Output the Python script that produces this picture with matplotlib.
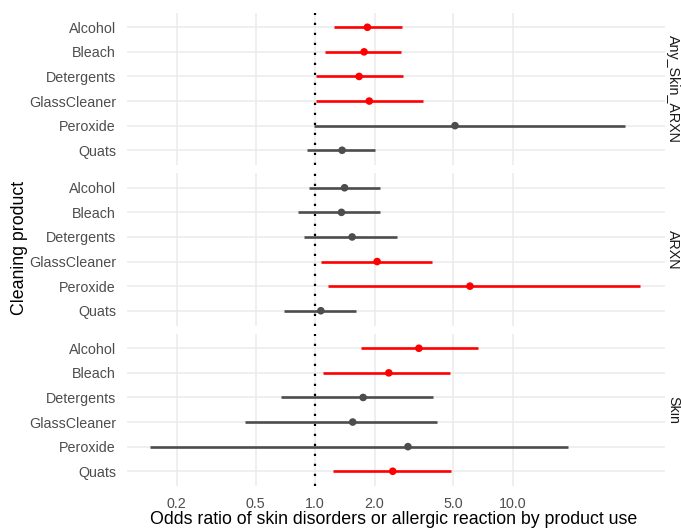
import matplotlib
matplotlib.use("Agg")
import matplotlib.pyplot as plt
from matplotlib.ticker import FixedLocator, FixedFormatter, NullLocator

plt.rcParams['font.family'] = ['Liberation Sans', 'DejaVu Sans']

products = ["Alcohol", "Bleach", "Detergents", "GlassCleaner", "Peroxide", "Quats"]
outcomes = ["Any_Skin_ARXN", "ARXN", "Skin"]

# odds ratios, lower and upper 95% CI, per outcome (order of products)
or_any = [1.84, 1.77, 1.67, 1.88, 5.10, 1.37]
lo_any = [1.24, 1.12, 1.01, 1.01, 0.99, 0.91]
hi_any = [2.74, 2.73, 2.80, 3.51, 36.9, 2.01]

or_arxn = [1.41, 1.36, 1.54, 2.06, 6.07, 1.07]
lo_arxn = [0.93, 0.82, 0.88, 1.07, 1.16, 0.70]
hi_arxn = [2.14, 2.14, 2.59, 3.90, 44.1, 1.62]

or_skin = [3.35, 2.36, 1.75, 1.55, 2.95, 2.47]
lo_skin = [1.70, 1.10, 0.675, 0.445, 0.147, 1.235]
hi_skin = [6.68, 4.80, 3.96, 4.13, 18.9, 4.88]

x_ticks = [0.2, 0.5, 1.0, 2.0, 5.0, 10.0]
x_tick_labels = ["0.2", "0.5", "1.0", "2.0", "5.0", "10.0"]

data = [(or_any, lo_any, hi_any), (or_arxn, lo_arxn, hi_arxn), (or_skin, lo_skin, hi_skin)]

W, H = 681, 528
fig = plt.figure(figsize=(W / 100, H / 100), dpi=100)

RED = "#FF0000"
GREY = "#4D4D4D"
GRID = "#EBEBEB"

left_px, right_px = 127, 665
tops = [12.5, 173, 333.5]
ph = 152.5

axes = []
for i, (outcome, (ors, los, his)) in enumerate(zip(outcomes, data)):
    top = tops[i]
    ax = fig.add_axes([left_px / W, 1 - (top + ph) / H, (right_px - left_px) / W, ph / H])
    axes.append(ax)
    colors = [RED if l > 1 else GREY for l in los]
    ax.set_xscale('log')
    ax.set_xlim(0.112, 58.8)
    ax.set_ylim(-0.6, 5.6)
    ypos = list(range(len(products)))
    for y in ypos:
        ax.axhline(y, color=GRID, lw=1.1, zorder=0)
    for xt in x_ticks:
        ax.axvline(xt, color=GRID, lw=1.1, zorder=0)
    ax.axvline(1.0, color="black", lw=1.6, linestyle=(0, (1, 3.5)), zorder=1)
    ax.hlines(ypos, los, his, colors=colors, lw=1.9, zorder=2)
    ax.scatter(ors, ypos, c=colors, s=30, zorder=3, edgecolors='none')
    ax.invert_yaxis()
    ax.set_yticks(ypos)
    ax.set_yticklabels(products, fontsize=10.3, color="#4D4D4D")
    ax.xaxis.set_major_locator(FixedLocator(x_ticks))
    ax.xaxis.set_minor_locator(NullLocator())
    if i == 2:
        ax.xaxis.set_major_formatter(FixedFormatter(x_tick_labels))
        ax.tick_params(axis='x', labelsize=10.3, labelcolor="#4D4D4D", length=0, pad=8)
    else:
        ax.tick_params(axis='x', labelbottom=False, length=0)
    ax.tick_params(axis='y', length=0, pad=8)
    for s in ax.spines.values():
        s.set_visible(False)
    ax.set_facecolor("white")
    fig.text(673 / W, 1 - (top + ph / 2) / H, outcome, rotation=-90, ha='center', va='center',
             fontsize=10.3, color="#1A1A1A")

fig.text(394 / W, 1 - 520 / H, "Odds ratio of skin disorders or allergic reaction by product use",
         ha='center', va='center', fontsize=12.8, color="black")
fig.text(20 / W, 1 - 248 / H, "Cleaning product", rotation=90, ha='center', va='center',
         fontsize=12.8, color="black")

fig.savefig("out.png", dpi=100)
